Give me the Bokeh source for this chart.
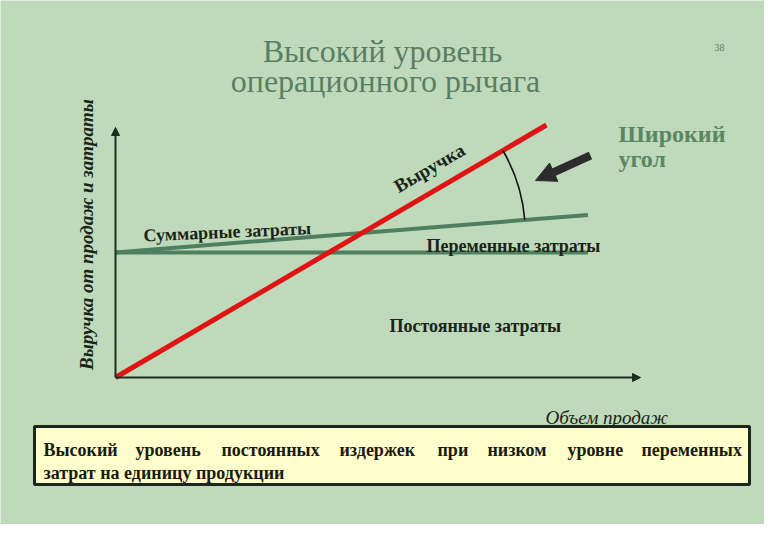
import math
from bokeh.plotting import figure
from bokeh.models import Range1d, Label, Arrow, NormalHead, BoxAnnotation
from bokeh.embed import file_html
from bokeh.resources import INLINE

# ---------------- data ----------------
volume_revenue = [0, 98.5]
revenue = [0, 101]
volume_costs = [0, 108]
fixed_costs = [50, 50]
total_costs = [50, 65]
axis_x_max = 120
axis_y_max = 100

title_lines = ["Высокий уровень", "операционного рычага"]
slide_number = "38"
angle_label = ["Широкий", "угол"]
revenue_label = "Выручка"
total_label = "Суммарные затраты"
variable_label = "Переменные затраты"
fixed_label = "Постоянные затраты"
x_label = "Объем продаж"
y_label = "Выручка от продаж и затраты"
note_line1 = ["Высокий", "уровень", "постоянных", "издержек", "при", "низком", "уровне", "переменных"]
note_line2 = "затрат на единицу продукции"

# ---------------- layout ----------------
W, H = 764, 524
OX, OY = 115, 377          # pixel of the origin inside the figure
PX_X = (640 - OX) / axis_x_max
PX_Y = (OY - 127) / axis_y_max


def D(P, Q):
    """figure pixel -> data coordinates"""
    return (P - OX) / PX_X, (OY - Q) / PX_Y


x0, y1 = D(0, 0)
x1, y0 = D(W, H)

BG = "#bfdabb"
p = figure(width=W, height=H, output_backend="svg", toolbar_location=None,
           x_range=Range1d(x0, x1), y_range=Range1d(y0, y1),
           x_axis_type=None, y_axis_type=None, min_border=0)
p.background_fill_color = BG
p.border_fill_color = BG
p.outline_line_color = None
p.xgrid.visible = False
p.ygrid.visible = False

SERIF = "Liberation Serif"
AXC = "#1c2e20"
TITLE_C = "#5b7e63"
DARK = "#1a2418"
GREEN = "#4e7f5f"
RED = "#e01414"

# axes with arrows
p.add_layout(Arrow(end=NormalHead(size=8, line_color=AXC, fill_color=AXC),
                   x_start=0, y_start=0, x_end=axis_x_max, y_end=0,
                   line_color=AXC, line_width=2))
p.add_layout(Arrow(end=NormalHead(size=8, line_color=AXC, fill_color=AXC),
                   x_start=0, y_start=0, x_end=0, y_end=axis_y_max,
                   line_color=AXC, line_width=2))

# cost lines and revenue
p.line(volume_costs, fixed_costs, line_color=GREEN, line_width=4)
p.line(volume_costs, total_costs, line_color=GREEN, line_width=4)
p.line(volume_revenue, revenue, line_color=RED, line_width=5)

# angle arc at break-even point
v_unit = (total_costs[1] - total_costs[0]) / (volume_costs[1] - volume_costs[0])
price = (revenue[1] - revenue[0]) / (volume_revenue[1] - volume_revenue[0])
be_x = fixed_costs[0] / (price - v_unit)
be_y = price * be_x
a_cost = math.atan2(v_unit * PX_Y, PX_X)
a_rev = math.atan2(price * PX_Y, PX_X)
p.arc(x=[be_x], y=[be_y], radius=163, radius_units="screen",
      start_angle=a_cost, end_angle=a_rev, direction="anticlock",
      line_color="#111111", line_width=1.6)

# thick pointer arrow
sx, sy = D(590, 155)
ex, ey = D(535, 180)
p.add_layout(Arrow(end=NormalHead(size=20, line_color="#2c2c2c", fill_color="#2c2c2c"),
                   x_start=sx, y_start=sy, x_end=ex, y_end=ey,
                   line_color="#2c2c2c", line_width=8))


def lab(text, P, Q, size, color=DARK, style="normal", align="left",
        baseline="alphabetic", angle=0.0):
    x, y = D(P, Q)
    p.add_layout(Label(x=x, y=y, text=text, text_font=SERIF,
                       text_font_size=f"{size}px", text_font_style=style,
                       text_color=color, text_align=align,
                       text_baseline=baseline, angle=angle))


# title and slide number
lab(title_lines[0], 382, 50, 32, TITLE_C, align="center")
lab(title_lines[1], 385, 80, 32, TITLE_C, align="center")
lab(slide_number, 719, 47, 10, TITLE_C, align="center")

# wide angle caption
lab(angle_label[0], 618, 133, 24, "#5a8663", style="bold")
lab(angle_label[1], 618, 158, 24, "#5a8663", style="bold")

# line captions
lab(revenue_label, 395, 187, 19, style="bold", angle=math.radians(30))
lab(total_label, 143, 235, 18, style="bold", angle=math.radians(2.5))
lab(variable_label, 426, 245, 18, style="bold")
lab(fixed_label, 389, 325, 18, style="bold")

# axis titles
lab(x_label, 545, 417, 19, style="italic")
lab(y_label, 86, 234, 19, style="bold italic", align="center",
    baseline="middle", angle=math.radians(90))

# note box
bl, bt = D(34, 426)
br, bb = D(749, 484)
p.add_layout(BoxAnnotation(left=bl, right=br, top=bt, bottom=bb,
                           fill_color="#ffffcc", fill_alpha=1.0,
                           line_color="#1c261c", line_width=3, line_alpha=1.0,
                           level="annotation"))
word_starts = [43, 135, 221, 339, 437, 487, 567, 641]
for w, ws in zip(note_line1, word_starts):
    lab(w, ws, 449, 18, "#1a1a10", style="bold")
lab(note_line2, 43, 472, 18, "#1a1a10", style="bold")

open("out.html", "w").write(file_html(p, INLINE))
